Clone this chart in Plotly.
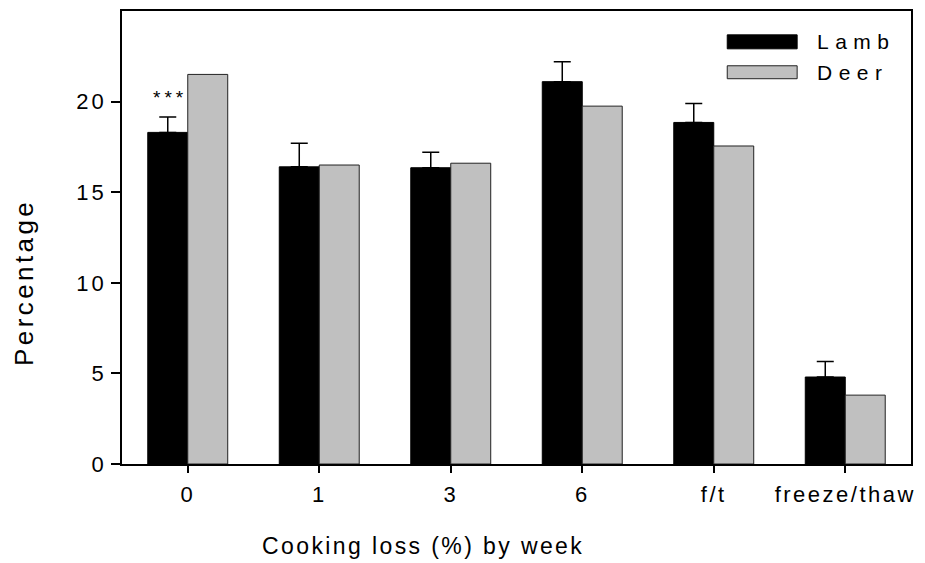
import plotly.graph_objects as go

categories = ["0", "1", "3", "6", "f/t", "freeze/thaw"]
lamb = [18.3, 16.4, 16.35, 21.1, 18.85, 4.8]
lamb_err = [0.85, 1.3, 0.85, 1.1, 1.05, 0.85]
deer = [21.5, 16.5, 16.6, 19.75, 17.55, 3.8]
y_ticks = [0, 5, 10, 15, 20]
series_names = ["Lamb", "Deer"]
lamb_color = "#000000"
deer_color = "#C0C0C0"

FONT = "Liberation Sans, Arial, sans-serif"


def spaced(t, px):
    return f'<span style="letter-spacing:{px}px">{t}</span>'


fig = go.Figure()
fig.add_trace(go.Bar(
    x=categories, y=lamb, name=series_names[0],
    marker=dict(color=lamb_color, line=dict(color="#000000", width=1)),
    error_y=dict(type="data", array=lamb_err, arrayminus=[0] * len(lamb_err),
                 symmetric=False, color="#000000", thickness=1.5, width=8.5),
    showlegend=False,
))
fig.add_trace(go.Bar(
    x=categories, y=deer, name=series_names[1],
    marker=dict(color=deer_color, line=dict(color="#222222", width=1)),
    showlegend=False,
))

# significance marker over Lamb week 0
fig.add_annotation(x=categories[0], y=lamb[0] + lamb_err[0], xref="x", yref="y",
                   text=spaced("***", 4), showarrow=False, xshift=-18, yanchor="bottom",
                   yshift=7, font=dict(family=FONT, size=19, color="#000"))

# legend drawn manually
fig.add_shape(type="rect", xref="paper", yref="paper", x0=0.7671, x1=0.8557, y0=0.9165, y1=0.9473,
              fillcolor=lamb_color, line=dict(color="#000", width=1))
fig.add_shape(type="rect", xref="paper", yref="paper", x0=0.7671, x1=0.8557, y0=0.8505, y1=0.8791,
              fillcolor=deer_color, line=dict(color="#222", width=1))
fig.add_annotation(xref="paper", yref="paper", x=0.8785, y=0.9319, xanchor="left", yanchor="middle",
                   text=spaced(series_names[0], 6.5), showarrow=False,
                   font=dict(family=FONT, size=21, color="#000"))
fig.add_annotation(xref="paper", yref="paper", x=0.8785, y=0.8637, xanchor="left", yanchor="middle",
                   text=spaced(series_names[1], 6.5), showarrow=False,
                   font=dict(family=FONT, size=21, color="#000"))

# axis titles
fig.add_annotation(xref="paper", yref="paper", x=0.381, y=-0.1802, xanchor="center", yanchor="middle",
                   text=spaced("Cooking loss (%) by week", 2.4), showarrow=False,
                   font=dict(family=FONT, size=23, color="#000"))
fig.add_annotation(xref="paper", yref="paper", x=-0.1241, y=0.4, xanchor="center", yanchor="middle",
                   text=spaced("Percentage", 3.4), showarrow=False, textangle=-90,
                   font=dict(family=FONT, size=26, color="#000"))

# page body has an 8px margin: figure is shrunk/offset so the plot lands where the reference has it
fig.update_layout(
    width=909, height=555,
    margin=dict(l=114, r=5, t=1, b=99),
    paper_bgcolor="white", plot_bgcolor="white",
    barmode="group", bargap=0.392, bargroupgap=0,
    font=dict(family=FONT, color="#000"),
)
fig.update_xaxes(
    type="category", range=[-0.5, 5.5],
    tickvals=categories, ticktext=[spaced(c, 2.5) for c in categories],
    showline=True, linecolor="#000", linewidth=1.5, mirror=True,
    ticks="outside", ticklen=7, tickwidth=1.5, tickcolor="#000",
    showgrid=False, zeroline=False, ticklabelstandoff=3,
    tickfont=dict(family=FONT, size=22, color="#000"),
)
fig.update_yaxes(
    range=[0, 25],
    tickvals=y_ticks, ticktext=[spaced(str(v), 3) for v in y_ticks],
    showline=True, linecolor="#000", linewidth=1.5, mirror=True,
    ticks="outside", ticklen=9, tickwidth=1.5, tickcolor="#000",
    showgrid=False, zeroline=False,
    tickfont=dict(family=FONT, size=22, color="#000"),
)

fig.write_html("out.html")
